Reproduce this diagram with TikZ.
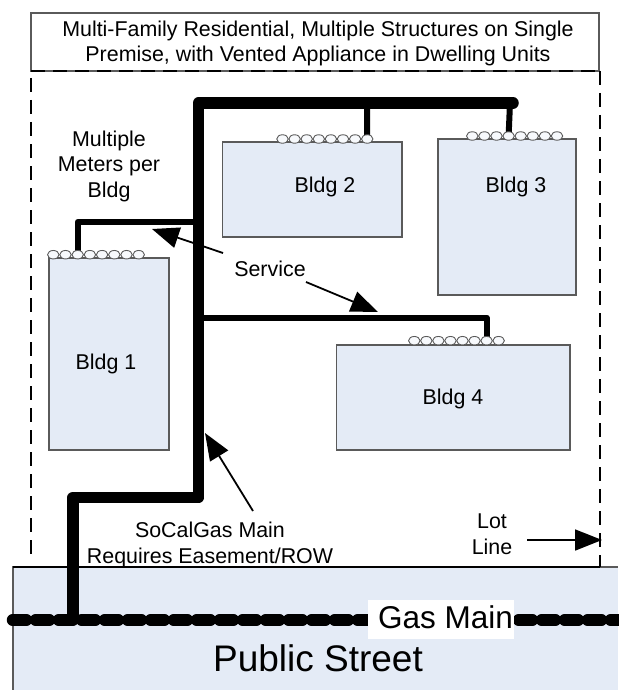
\documentclass[tikz,border=0pt]{standalone}
\usepackage{fontspec}
\setmainfont{Liberation Sans}
\usetikzlibrary{arrows.meta,shapes.geometric}
\definecolor{bldgfill}{HTML}{E4EBF6}
\definecolor{edgegray}{HTML}{5A5A5A}
\tikzset{
  bldg/.style={draw=edgegray,line width=1.2pt,fill=bldgfill},
  txt/.style={inner sep=0pt,align=center,font=\fontsize{21.4}{25.5}\selectfont},
  txtbase/.style={inner sep=0pt,anchor=base,font=\fontsize{21.4}{25.5}\selectfont},
  meter/.style={ellipse,draw=edgegray,line width=0.9pt,fill=white!70!bldgfill,minimum width=11.5pt,minimum height=8.5pt,inner sep=0pt},
  mainpipe/.style={line width=11.5pt,line join=round,line cap=round},
  svcpipe/.style={line width=6pt,line join=round,line cap=round},
  callout/.style={line width=1.8pt,-{Triangle[length=27pt,width=21pt]}},
  lotline/.style={line width=1.6pt,dash pattern=on 14pt off 8pt}
}
\begin{document}
\begin{tikzpicture}[x=1pt,y=-1pt]
\useasboundingbox (0,0) rectangle (618,690);
% street
\fill[bldgfill] (13,567) rectangle (618,690);
\draw[edgegray,line width=1.2pt] (13,690) -- (13,567) -- (618,567);
\draw[black,line width=1.5pt] (13,567) -- (600,567);
% title box and lot lines
\draw[edgegray,line width=1.2pt] (31,71) -- (31,13) -- (599,13) -- (599,71) -- cycle;
\draw[lotline,line width=1.5pt] (31,71) -- (599,71);
\draw[lotline,line width=1.2pt] (31,78) -- (31,560);
\draw[lotline,line width=2pt] (600,71) -- (600,567);
\node[txt] (title) at (318,43.5) {Multi-Family Residential, Multiple Structures on Single\\Premise, with Vented Appliance in Dwelling Units};
% buildings
\node[bldg,minimum width=120pt,minimum height=192pt,inner sep=0pt] (b1) at (109,354) {};
\node[bldg,minimum width=179.5pt,minimum height=95pt,inner sep=0pt] (b2) at (312.25,189.5) {};
\node[bldg,minimum width=138pt,minimum height=156pt,inner sep=0pt] (b3) at (507,217) {};
\node[bldg,minimum width=233.5pt,minimum height=105pt,inner sep=0pt] (b4) at (453.25,397.5) {};
\node[txtbase] (l1) at (106,369) {Bldg 1};
\node[txtbase] (l2) at (325,192.7) {Bldg 2};
\node[txtbase] (l3) at (516,192.7) {Bldg 3};
\node[txtbase] (l4) at (453,404) {Bldg 4};
% pipe coordinates
\coordinate (tap) at (73,620);
\coordinate (bendA) at (73,497.5);
\coordinate (bendB) at (198.5,497.5);
\coordinate (bendC) at (198.5,103);
\coordinate (mainEnd) at (513,103);
\coordinate (j1) at (198.5,222);
\coordinate (j2) at (367,103);
\coordinate (j3) at (510,103);
\coordinate (j4) at (198.5,317.7);
% meters
\foreach \i in {0,...,7}{
  \coordinate (c1\i) at ({53.3+12.2*\i},254.7);
  \coordinate (c2\i) at ({282.5+12.1*\i},139);
  \coordinate (c3\i) at ({472.3+12.1*\i},136);
  \coordinate (c4\i) at ({414.3+12.05*\i},340.7);
}
% service lines
\draw[svcpipe] (j1) -| (c12);
\draw[svcpipe] (j2) -- (c27);
\draw[svcpipe] (j3) -- (c33);
\draw[svcpipe] (j4) -| ([yshift=4pt]c46);
\foreach \i in {0,...,7}{
  \node[meter] (m1\i) at (c1\i) {};
  \node[meter] (m2\i) at (c2\i) {};
  \node[meter] (m3\i) at (c3\i) {};
  \node[meter] (m4\i) at (c4\i) {};
}
% gas main
\coordinate (gmL) at (12.5,620);
\coordinate (gmR) at (618,620);
\draw[line width=11.5pt,line cap=round,dash pattern=on 14pt off 9pt] (gmL) -- (gmR);
\draw[mainpipe] (tap) -- (bendA) -- (bendB) -- (bendC) -- (mainEnd);
\node[fill=white,minimum width=146pt,minimum height=39pt,inner sep=0pt] (gasbox) at (441,619.5) {};
\node[txtbase,font=\fontsize{31.5}{36}\selectfont] (gas) at (445.5,628) {Gas Main};
\node[txtbase,font=\fontsize{37}{42}\selectfont] (street) at (318,671.7) {Public Street};
% labels
\node[txt] (meters) at (109,166) {Multiple\\Meters per\\Bldg};
\node[txtbase] (service) at (270,276.7) {Service};
\node[txt] (socal) at (210,545) {SoCalGas Main\\Requires Easement/ROW};
\node[txt] (lot) at (492,534) {Lot\\Line};
% callouts
\coordinate (s1a) at (223,253); \coordinate (s1b) at (152,229);
\coordinate (s2a) at (306,282); \coordinate (s2b) at (378,312);
\coordinate (m1a) at (253,511); \coordinate (m1b) at (205,433);
\coordinate (lla) at (527,540); \coordinate (llb) at (602,540);
\draw[callout] (s1a) -- (s1b);
\draw[callout] (s2a) -- (s2b);
\draw[callout] (m1a) -- (m1b);
\draw[callout] (lla) -- (llb);
\end{tikzpicture}
\end{document}
